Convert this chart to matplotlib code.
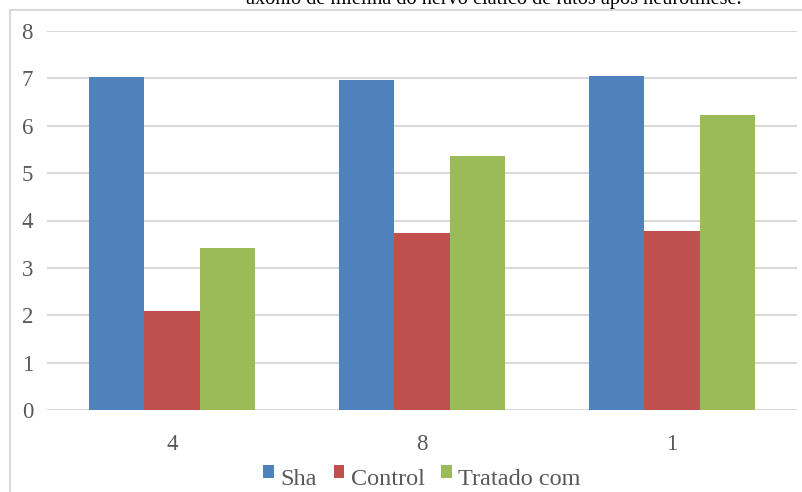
import matplotlib
matplotlib.use('Agg')
import matplotlib.pyplot as plt
from matplotlib.patches import Rectangle
import numpy as np

# Chart data
categories = ['4', '8', '1']
series_names = ['Sha', 'Control', 'Tratado com']
sha = [7.03, 6.97, 7.05]
control = [2.10, 3.73, 3.77]
tratado = [3.43, 5.36, 6.22]
title = 'axônio de mielina do nervo ciático de ratos após neurotmese.'

colors = ['#4F81BD', '#C0504D', '#9BBB59']
grid_color = '#D9D9D9'
text_color = '#595959'
font = 'Liberation Serif'

W, H = 803, 492
fig = plt.figure(figsize=(W / 100, H / 100), dpi=100)

# Outer chart frame (runs off the right and bottom edges)
fig.patches.append(Rectangle((10 / W, -0.1), 1.2, (H - 10) / H + 0.1,
                             transform=fig.transFigure, fill=False,
                             edgecolor=grid_color, linewidth=1.5))

# Title, mostly cut off at the top
fig.text(494 / W, 1 - 4 / H, title, ha='center', va='baseline',
         fontsize=14.6, family=font, color='black')

ax = fig.add_axes([47 / W, 82 / H, 750 / W, 379 / H])
x = np.arange(len(categories))
width = 0.222
for i, (vals, name) in enumerate(zip([sha, control, tratado], series_names)):
    ax.bar(x + (i - 1) * width, vals, width, color=colors[i], label=name, zorder=3)

ax.set_xlim(-0.5, len(categories) - 0.5)
ax.set_ylim(0, 8)
ax.set_yticks(range(0, 9))
ax.set_xticks(x)
ax.set_xticklabels(categories)
ax.yaxis.grid(True, color=grid_color, linewidth=1.5, zorder=0)
for s in ax.spines.values():
    s.set_visible(False)
ax.tick_params(axis='both', length=0, labelsize=16.5, labelcolor=text_color)
ax.tick_params(axis='y', pad=10)
ax.tick_params(axis='x', pad=17)
for lbl in ax.get_xticklabels() + ax.get_yticklabels():
    lbl.set_family(font)

leg = ax.legend(loc='lower center', bbox_to_anchor=(0.5, -0.27), ncol=3,
                frameon=False, handlelength=0.45, handleheight=0.45,
                handletextpad=0.25, columnspacing=0.7,
                prop={'family': font, 'size': 17.5})
for t in leg.get_texts():
    t.set_color(text_color)
# lift the legend squares up to the cap height of the text
for h in leg.legend_handles:
    h.set_y(h.get_y() + 4)

fig.savefig('out.png', dpi=100)
